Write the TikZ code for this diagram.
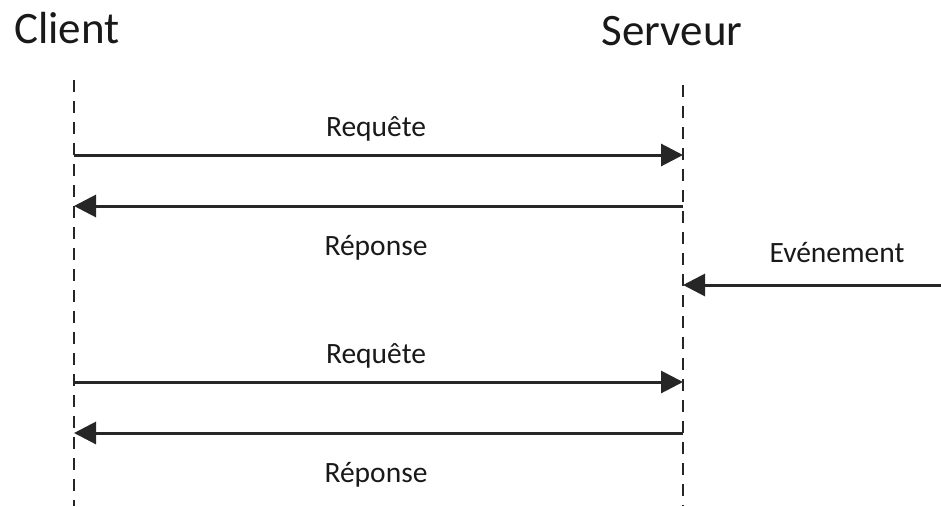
\documentclass[tikz,border=0pt]{standalone}
\usepackage{fontspec}
\setmainfont{Carlito}
\usetikzlibrary{arrows.meta}
\begin{document}
\begin{tikzpicture}[x=1pt,y=-1pt,
  lifeline/.style={line width=2.8pt,dash pattern=on 12pt off 9pt,black!85},
  msg/.style={line width=3pt,black!85,-{Triangle[length=22pt,width=22pt]}},
  title/.style={font=\fontsize{45}{45}\selectfont,anchor=base,inner sep=0pt,text=black!90},
  lbl/.style={font=\fontsize{29.5}{29.5}\selectfont,anchor=base,inner sep=0pt,text=black!90}]
\useasboundingbox (0,0) rectangle (941,506);
\node[title] (client) at (67,43) {Client};
\node[title] (serveur) at (672,45) {Serveur};
\coordinate (ctop) at (74,80);
\coordinate (cbot) at (74,506);
\coordinate (stop) at (683,85);
\coordinate (sbot) at (683,506);
\draw[lifeline] (ctop) -- (cbot);
\draw[lifeline] (stop) -- (sbot);
% messages
\coordinate (c1) at (74,155); \coordinate (s1) at (683,155);
\coordinate (c2) at (74,206); \coordinate (s2) at (683,206);
\coordinate (e3) at (941,285); \coordinate (s3) at (683,285);
\coordinate (c4) at (74,382); \coordinate (s4) at (683,382);
\coordinate (c5) at (74,433); \coordinate (s5) at (683,433);
\draw[msg] (c1) -- (s1);
\draw[msg] (s2) -- (c2);
\draw[msg] (e3) -- (s3);
\draw[msg] (c4) -- (s4);
\draw[msg] (s5) -- (c5);
\node[lbl] (l1) at (376,136) {Requête};
\node[lbl] (l2) at (376,255) {Réponse};
\node[lbl] (l3) at (837,262) {Evénement};
\node[lbl] (l4) at (376,363) {Requête};
\node[lbl] (l5) at (376,482) {Réponse};
\end{tikzpicture}
\end{document}
